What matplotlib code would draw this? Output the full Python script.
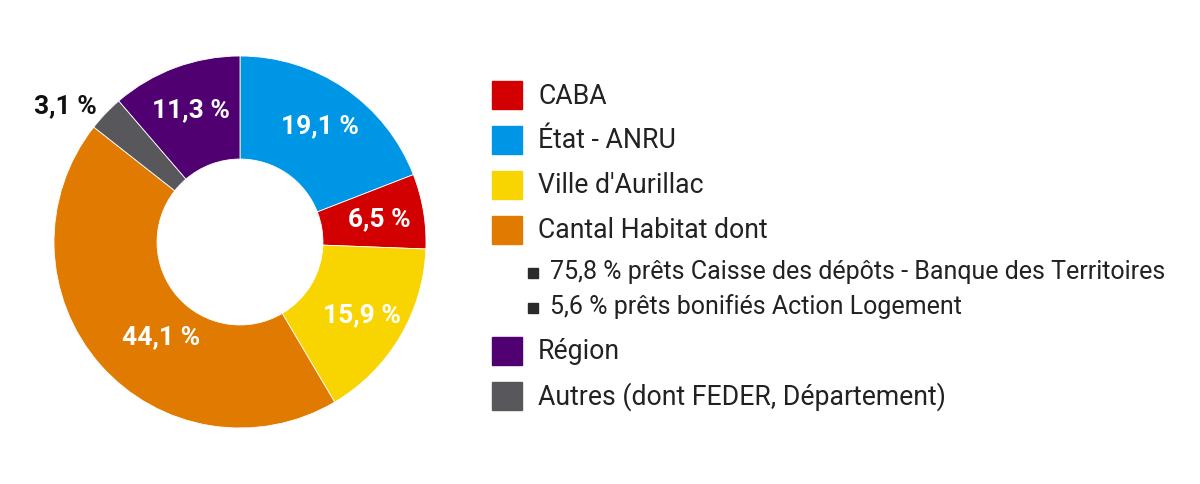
import matplotlib.pyplot as plt
from matplotlib.patches import Rectangle
import numpy as np

plt.rcParams['font.family'] = ['Roboto', 'DejaVu Sans']

# donut slices, clockwise from the top
slice_names = ["État - ANRU", "CABA", "Ville d'Aurillac", "Cantal Habitat dont", "Autres (dont FEDER, Département)", "Région"]
slice_values = [19.1, 6.5, 15.9, 44.1, 3.1, 11.3]
slice_colors = ["#0096E6", "#D20000", "#F8D500", "#E17A00", "#58585C", "#500070"]

# legend rows (main entries and the two sub-lines under Cantal Habitat)
legend_names = ["CABA", "État - ANRU", "Ville d'Aurillac", "Cantal Habitat dont",
                "75,8 % prêts Caisse des dépôts - Banque des Territoires",
                "5,6 % prêts bonifiés Action Logement",
                "Région", "Autres (dont FEDER, Département)"]
legend_is_sub = [False, False, False, False, True, True, False, False]

W, H = 1200, 485
fig = plt.figure(figsize=(W / 100, H / 100), dpi=100)

cx, cy, r = 240, 243, 186
ax = fig.add_axes([(cx - r) / W, (H - cy - r) / H, 2 * r / W, 2 * r / H])
wedges, texts, autotexts = ax.pie(
    slice_values, colors=slice_colors, startangle=90, counterclock=False,
    radius=1, autopct=lambda p: f"{p:.1f} %".replace(".", ","), pctdistance=0.76,
    wedgeprops=dict(width=0.554, edgecolor="white", linewidth=0.6),
    textprops=dict(color="white", fontsize=19, fontweight="bold"))
ax.set_xlim(-1, 1)
ax.set_ylim(-1, 1)

for i, t in enumerate(autotexts):
    w = wedges[i]
    ang = np.deg2rad((w.theta1 + w.theta2) / 2)
    if slice_values[i] < 5:
        # small slice: label outside, in black
        t.set_position((1.19 * np.cos(ang + 0.1), 1.19 * np.sin(ang + 0.1)))
        t.set_color("#111111")
    elif slice_values[i] > 40:
        t.set_position((0.66 * np.cos(ang + 0.15), 0.66 * np.sin(ang + 0.15)))

# legend drawn in pixel coordinates
lg = fig.add_axes([0, 0, 1, 1])
lg.set_xlim(0, W)
lg.set_ylim(H, 0)
lg.axis("off")

color_of = dict(zip(slice_names, slice_colors))
y = 96
for i, name in enumerate(legend_names):
    if legend_is_sub[i]:
        lg.add_patch(Rectangle((528, y - 3), 10, 10, color="#2a2a2a"))
        lg.text(550, y, name, fontsize=18, color="#222222", va="center")
    else:
        lg.add_patch(Rectangle((492, y - 14), 30, 28, color=color_of[name]))
        lg.text(538, y, name, fontsize=19.2, color="#222222", va="center")
    if i + 1 < len(legend_names):
        cur, nxt = legend_is_sub[i], legend_is_sub[i + 1]
        if cur and nxt:
            y += 35
        elif nxt:
            y += 41
        else:
            y += 45

fig.savefig("out.png", dpi=100)
